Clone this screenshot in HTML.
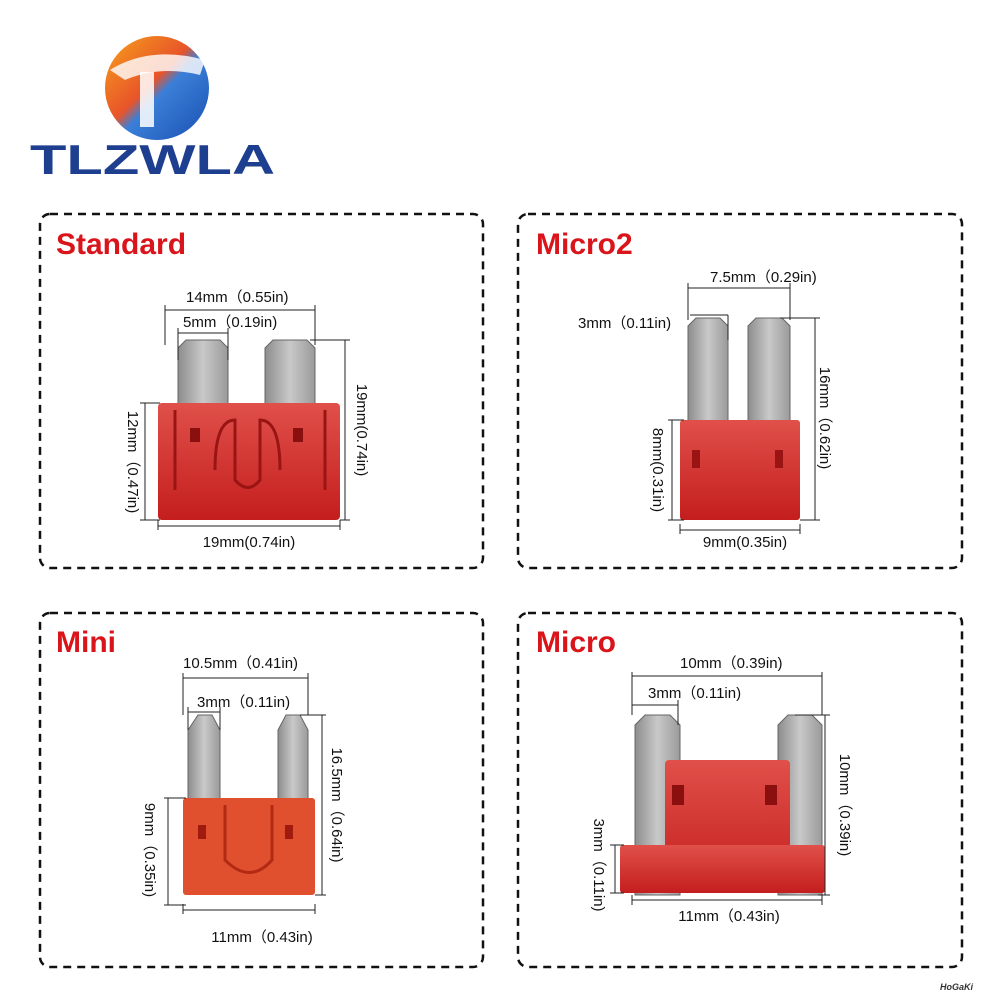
<!DOCTYPE html>
<html><head><meta charset="utf-8"><style>
html,body{margin:0;padding:0;background:#fff;width:1000px;height:1000px;overflow:hidden}
svg{display:block}
text{font-family:"Liberation Sans","Noto Sans CJK SC",sans-serif}
</style></head><body>
<svg width="1000" height="1000" viewBox="0 0 1000 1000" xmlns="http://www.w3.org/2000/svg">
<defs>
<linearGradient id="lg" x1="0" y1="0" x2="1" y2="1">
<stop offset="0" stop-color="#f7a21b"/><stop offset="0.45" stop-color="#e8542a"/><stop offset="0.55" stop-color="#3a7fd8"/><stop offset="1" stop-color="#1a4fb0"/></linearGradient>
<linearGradient id="blade" x1="0" x2="1"><stop offset="0" stop-color="#8d8d8d"/><stop offset="0.5" stop-color="#c9c9c9"/><stop offset="1" stop-color="#9a9a9a"/></linearGradient>
<linearGradient id="red" x1="0" x2="0" y1="0" y2="1"><stop offset="0" stop-color="#e0504a"/><stop offset="1" stop-color="#c41e1e"/></linearGradient>
</defs>
<!-- logo -->
<circle cx="157" cy="88" r="52" fill="url(#lg)"/>
<path d="M110 70 Q150 45 205 60 L200 75 Q160 65 125 80 Z" fill="#fff" opacity="0.8"/>
<rect x="140" y="72" width="14" height="55" fill="#fff" opacity="0.85"/>
<text x="30" y="174" font-size="42" font-weight="bold" fill="#1e3f8f" textLength="245" lengthAdjust="spacingAndGlyphs">TLZWLA</text>

<g fill="none" stroke="#111" stroke-width="2.5" stroke-dasharray="8 6">
<rect x="40" y="214" width="443" height="354" rx="10"/>
<rect x="518" y="214" width="444" height="354" rx="10"/>
<rect x="40" y="613" width="443" height="354" rx="10"/>
<rect x="518" y="613" width="444" height="354" rx="10"/>
</g>
<g font-size="30" font-weight="bold" fill="#d9141b">
<text x="56" y="254">Standard</text>
<text x="536" y="254">Micro2</text>
<text x="56" y="652">Mini</text>
<text x="536" y="652">Micro</text>
</g>

<g stroke="#666" stroke-width="1">
<!-- Standard blades -->
<path d="M178 410 V348 L186 340 H220 L228 348 V410 Z" fill="url(#blade)"/>
<path d="M265 410 V348 L273 340 H307 L315 348 V410 Z" fill="url(#blade)"/>
<!-- Micro2 blades -->
<path d="M688 422 V326 L696 318 H720 L728 326 V422 Z" fill="url(#blade)"/>
<path d="M748 422 V326 L756 318 H782 L790 326 V422 Z" fill="url(#blade)"/>
<!-- Mini blades -->
<path d="M188 803 V730 L198 715 H212 L220 730 V803 Z" fill="url(#blade)"/>
<path d="M278 803 V730 L286 715 H300 L308 730 V803 Z" fill="url(#blade)"/>
<!-- Micro blades -->
<path d="M635 895 V725 L645 715 H670 L680 725 V895 Z" fill="url(#blade)"/>
<path d="M778 895 V725 L788 715 H812 L822 725 V895 Z" fill="url(#blade)"/>
</g>
<!-- Standard body -->
<rect x="158" y="403" width="182" height="117" rx="4" fill="url(#red)"/>
<path d="M175 410 L175 490 M325 410 L325 490 M215 470 Q215 420 235 420 L235 480 Q248 495 260 480 L260 420 Q280 420 280 470" stroke="#9a1414" stroke-width="3" fill="none"/>
<rect x="190" y="428" width="10" height="14" fill="#8a1010"/><rect x="293" y="428" width="10" height="14" fill="#8a1010"/>
<!-- Micro2 body -->
<rect x="680" y="420" width="120" height="100" rx="3" fill="url(#red)"/>
<rect x="692" y="450" width="8" height="18" fill="#9a1414"/><rect x="775" y="450" width="8" height="18" fill="#9a1414"/>
<!-- Mini body -->
<rect x="183" y="798" width="132" height="97" rx="3" fill="#e0502e"/>
<path d="M225 805 L225 860 Q250 885 272 860 L272 805" stroke="#b22a14" stroke-width="3" fill="none"/>
<rect x="198" y="825" width="8" height="14" fill="#a01a10"/><rect x="285" y="825" width="8" height="14" fill="#a01a10"/>
<!-- Micro body -->
<rect x="665" y="760" width="125" height="130" rx="4" fill="url(#red)"/>
<rect x="620" y="845" width="205" height="48" rx="3" fill="url(#red)"/>
<rect x="672" y="785" width="12" height="20" fill="#8a1010"/><rect x="765" y="785" width="12" height="20" fill="#8a1010"/>

<!-- dimension lines -->
<g stroke="#222" stroke-width="1" fill="none">
<path d="M165 310 H315 M165 305 V345 M315 305 V345"/>
<path d="M178 333 H228 M178 328 V360 M228 328 V360"/>
<path d="M345 340 V520 M310 340 H350 M340 520 H350"/>
<path d="M145 403 V520 M140 403 H160 M140 520 H160"/>
<path d="M158 526 H340 M158 520 V530 M340 520 V530"/>

<path d="M688 288 H790 M688 283 V320 M790 283 V320"/>
<path d="M728 315 V340 M690 315 H728"/>
<path d="M815 318 V520 M780 318 H820 M800 520 H820"/>
<path d="M672 420 V520 M668 420 H684 M668 520 H684"/>
<path d="M680 530 H800 M680 524 V534 M800 524 V534"/>

<path d="M183 678 H308 M183 673 V715 M308 673 V715"/>
<path d="M188 712 H220 M188 707 V730 M220 707 V730"/>
<path d="M322 715 V895 M300 715 H326 M315 895 H326"/>
<path d="M168 798 V905 M164 798 H186 M164 905 H186"/>
<path d="M183 910 H315 M183 904 V914 M315 904 V914"/>

<path d="M632 676 H822 M632 672 V715 M822 672 V715"/>
<path d="M632 705 H678 M678 700 V725"/>
<path d="M825 715 V895 M795 715 H830 M818 895 H830"/>
<path d="M615 845 V893 M610 845 H624 M610 893 H624"/>
<path d="M632 900 H822 M632 895 V905 M822 895 V905"/>
</g>
<g font-size="15" fill="#111">
<text x="186" y="302">14mm（0.55in)</text>
<text x="183" y="327">5mm（0.19in)</text>
<text transform="translate(357,430) rotate(90)" text-anchor="middle">19mm(0.74in)</text>
<text transform="translate(128,462) rotate(90)" text-anchor="middle">12mm（0.47in)</text>
<text x="249" y="547" text-anchor="middle">19mm(0.74in)</text>

<text x="710" y="282">7.5mm（0.29in)</text>
<text x="578" y="328">3mm（0.11in)</text>
<text transform="translate(820,418) rotate(90)" text-anchor="middle">16mm（0.62in)</text>
<text transform="translate(653,470) rotate(90)" text-anchor="middle">8mm(0.31in)</text>
<text x="745" y="547" text-anchor="middle">9mm(0.35in)</text>

<text x="183" y="668">10.5mm（0.41in)</text>
<text x="197" y="707">3mm（0.11in)</text>
<text transform="translate(332,805) rotate(90)" text-anchor="middle">16.5mm（0.64in)</text>
<text transform="translate(145,850) rotate(90)" text-anchor="middle">9mm（0.35in)</text>
<text x="262" y="942" text-anchor="middle">11mm（0.43in)</text>

<text x="680" y="668">10mm（0.39in)</text>
<text x="648" y="698">3mm（0.11in)</text>
<text transform="translate(840,805) rotate(90)" text-anchor="middle">10mm（0.39in)</text>
<text transform="translate(594,865) rotate(90)" text-anchor="middle">3mm（0.11in)</text>
<text x="729" y="921" text-anchor="middle">11mm（0.43in)</text>
</g>
<text x="940" y="990" font-size="9" font-weight="bold" font-style="italic" fill="#333">HoGaKi</text>
</svg>
</body></html>
